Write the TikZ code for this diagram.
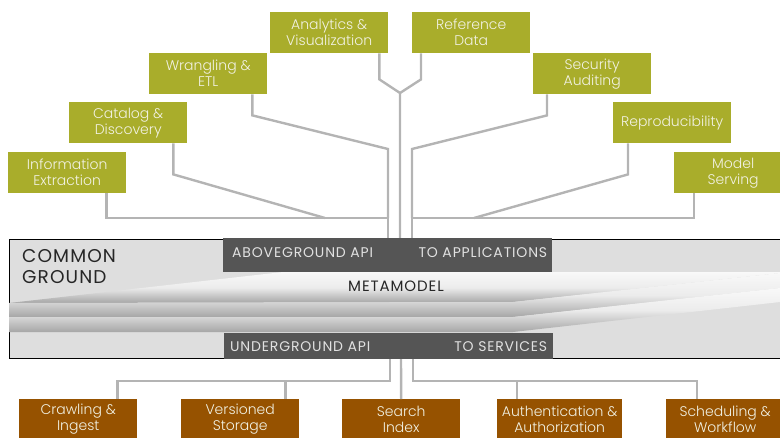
\documentclass[tikz,border=0pt]{standalone}
\usepackage{fontspec}
\IfFontExistsTF{Poppins Light}{\setmainfont{Poppins Light}}{\setmainfont{Poppins}}
\newfontfamily\capsfont[LetterSpace=6]{Poppins}
\usepackage{tikz}

\definecolor{appgreen}{RGB}{169,173,43}
\definecolor{svcbrown}{RGB}{150,82,0}
\definecolor{boxtext}{RGB}{242,242,228}
\definecolor{apigray}{RGB}{85,85,85}
\definecolor{apitext}{RGB}{225,225,225}
\definecolor{wiregray}{RGB}{180,180,180}
\definecolor{groundgray}{RGB}{222,222,222}

\tikzset{
  appbox/.style={rectangle, fill=appgreen, text=boxtext, minimum height=41, minimum width=118, anchor=north west, align=center, inner sep=2, font=\fontsize{14}{16}\selectfont},
  svcbox/.style={rectangle, fill=svcbrown, text=boxtext, minimum height=40, minimum width=118, anchor=north west, align=center, inner sep=2, font=\fontsize{14}{16}\selectfont},
  apibox/.style={rectangle, fill=apigray, anchor=north west, inner sep=0},
  apilbl/.style={text=apitext, inner sep=0, font=\capsfont\fontsize{14}{16}\selectfont},
  sheet/.style={top color=gray!5, bottom color=gray!70, middle color=gray!15},
  wire/.style={draw=wiregray, line width=2.4}
}

\begin{document}
\begin{tikzpicture}[x=1pt, y=-1pt]
\useasboundingbox (0,0) rectangle (780,437);
\clip (0,0) rectangle (780,437);

% applications
\node at (8,152) [appbox] (info) {Information\\Extraction};
\node at (69,102) [appbox] (catalog) {Catalog \&\\Discovery};
\node at (149,53) [appbox] (wrangling) {Wrangling \&\\ETL};
\node at (270,12) [appbox] (analytics) {Analytics \&\\Visualization};
\node at (412,12) [appbox] (refdata) {Reference\\Data};
\node at (533,53) [appbox] (security) {Security\\Auditing};
\node at (613,102) [appbox] (repro) {Reproducibility};
\node at (674,152) [appbox] (serving) {Model\\Serving};

% services
\node at (19,399) [svcbox] (crawl) {Crawling \&\\Ingest};
\node at (181,399) [svcbox] (storage) {Versioned\\Storage};
\node at (342,399) [svcbox] (search) {Search\\Index};
\node at (497,399) [svcbox, minimum width=125] (auth) {Authentication \&\\Authorization};
\node at (666,399) [svcbox] (sched) {Scheduling \&\\Workflow};

\coordinate (upL) at (388,238);
\coordinate (upM) at (400,238);
\coordinate (upR) at (412,238);
\coordinate (joinL) at (388,218);
\coordinate (joinR) at (412,218);
\coordinate (fork) at (400,93);
\coordinate (dnL) at (390,359);
\coordinate (dnM) at (401,359);
\coordinate (dnR) at (413,359);

% wires up
\draw[wire] ([xshift=-20]info.south east) |- (joinL) -- (upL);
\draw[wire] ([xshift=-14]catalog.south east) -- ++(0,31) -- (325,218);
\draw[wire] ([xshift=-15]wrangling.south east) -- ++(0,21) -- (388,149) -- (joinL);
\draw[wire] ([xshift=-9]analytics.south east) -- ++(0,26) -- (fork) -- (upM);
\draw[wire] ([xshift=9]refdata.south west) -- ++(0,26) -- (fork);
\draw[wire] ([xshift=14]security.south west) -- ++(0,21) -- (412,149) -- (joinR);
\draw[wire] ([xshift=15]repro.south west) -- ++(0,31) -- (474,218);
\draw[wire] ([xshift=20]serving.south west) |- (joinR) -- (upR);

% wires down
\draw[wire] (dnL) -- ++(0,22) -| ([xshift=-20]crawl.north east);
\draw[wire] ([xshift=-14]storage.north east) -- ++(0,-18);
\draw[wire] (dnM) -- (search.north);
\draw[wire] (dnR) -- ++(0,22) -| ([xshift=31]sched.north west);
\draw[wire] ([xshift=20]auth.north west) -- ++(0,-18);

% common ground
\node at (9,239) [rectangle, draw=black, line width=1.2, fill=groundgray, minimum width=790, minimum height=119, anchor=north west] (common) {};
\node at (22,249) [anchor=north west, align=left, inner sep=0, text=black!85, font=\capsfont\fontsize{18.5}{21.5}\selectfont] (cglbl) {COMMON\\GROUND};

% metamodel sheets
\shade[sheet] (9,303) -- (283,272) -- (790,272) -- (790,272) -- (513,302) -- cycle;
\shade[sheet] (9,303) -- (513,302) -- (780,273) -- (780,288) -- (513,317) -- (9,317) -- cycle;
\shade[sheet] (9,317) -- (513,317) -- (780,288) -- (780,302) -- (513,332) -- (9,332) -- cycle;
\node at (396,286) [text=black!85, font=\capsfont\fontsize{15}{17}\selectfont] (meta) {METAMODEL};

% apis
\node at (223,238) [apibox, minimum width=329, minimum height=34] (above) {};
\node at (224,333) [apibox, minimum width=329, minimum height=26] (under) {};
\node [apilbl, anchor=west] at ([xshift=9, yshift=3]above.west) (abovelbl) {ABOVEGROUND API};
\node [apilbl, anchor=east] at ([xshift=-5, yshift=3]above.east) (appslbl) {TO APPLICATIONS};
\node [apilbl, anchor=west] at ([xshift=6]under.west) (underlbl) {UNDERGROUND API};
\node [apilbl, anchor=east] at ([xshift=-6]under.east) (svcslbl) {TO SERVICES};

\end{tikzpicture}
\end{document}
